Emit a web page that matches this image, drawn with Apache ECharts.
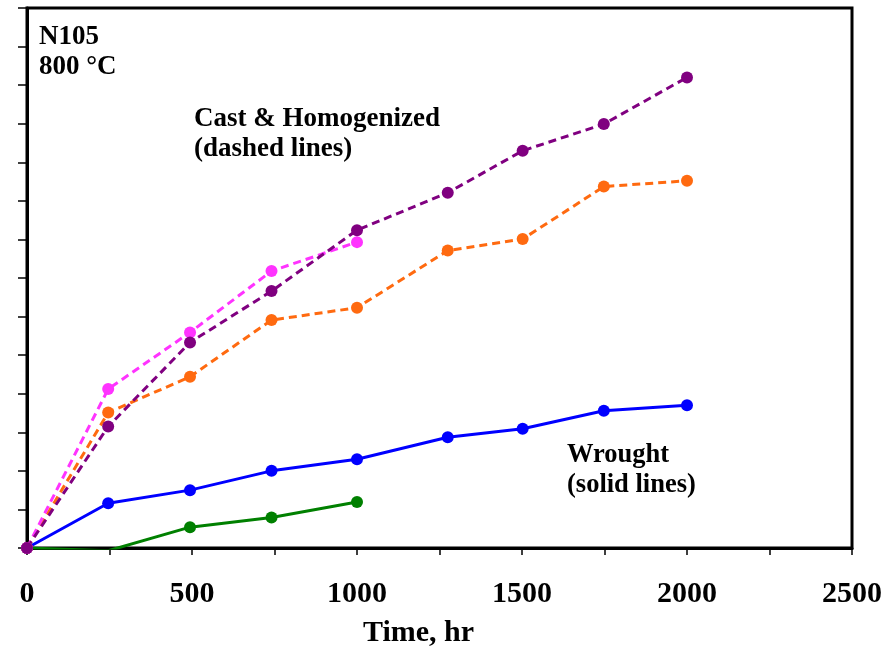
<!DOCTYPE html>
<html>
<head>
<meta charset="utf-8">
<script src="https://cdn.jsdelivr.net/npm/echarts@6/dist/echarts.min.js"></script>
<style>
html,body{margin:0;padding:0;background:#fff;}
#chart{width:887px;height:649px;}
</style>
</head>
<body>
<div id="chart"></div>
<script>
// Time (hr) and values (y axis unlabeled; arbitrary units)
var wroughtTimes = [0, 246, 494, 741, 1000, 1275, 1502, 1748, 2000];
var wroughtBlue = [0, 1.16, 1.50, 2.00, 2.30, 2.87, 3.09, 3.56, 3.70];
var greenTimes = [0, 246, 494, 741, 1000];
var wroughtGreen = [0, -0.07, 0.54, 0.79, 1.19];
var castTimes = [0, 246, 494, 741, 1000, 1275, 1502, 1748, 2000];
var castPurple = [0, 3.15, 5.33, 6.66, 8.24, 9.21, 10.30, 10.99, 12.20];
var castOrange = [0, 3.51, 4.44, 5.91, 6.23, 7.71, 8.01, 9.37, 9.52];
var magentaTimes = [0, 246, 494, 741, 1000];
var castMagenta = [0, 4.12, 5.59, 7.18, 7.93];
var xTickLabels = [0, 500, 1000, 1500, 2000, 2500];

function pairs(xs, ys) { return xs.map(function (x, i) { return [x, ys[i]]; }); }

var serif = '"Liberation Serif", "Times New Roman", serif';

function lineSeries(name, xs, ys, color, dashed) {
  return {
    name: name,
    type: 'line',
    data: pairs(xs, ys),
    symbol: 'circle',
    symbolSize: 12,
    showSymbol: true,
    clip: true,
    itemStyle: { color: color },
    lineStyle: { color: color, width: 3, type: dashed ? [8, 5] : 'solid' },
    emphasis: { disabled: true },
    animation: false
  };
}

var chart = echarts.init(document.getElementById('chart'));
chart.setOption({
  animation: false,
  backgroundColor: '#fff',
  grid: { left: 27, top: 8, right: 35, bottom: 101, show: true, borderColor: '#000', borderWidth: 3, backgroundColor: 'transparent' },
  xAxis: {
    type: 'value', min: 0, max: 2500, interval: 250,
    axisLine: { show: true, lineStyle: { color: '#000', width: 3 } },
    axisTick: { show: true, length: 7, lineStyle: { color: '#000', width: 1.5 } },
    splitLine: { show: false },
    axisLabel: {
      margin: 31, color: '#000', fontFamily: serif, fontWeight: 'bold', fontSize: 30,
      formatter: function (v) { return xTickLabels.indexOf(v) >= 0 ? String(v) : ''; }
    }
  },
  yAxis: {
    type: 'value', min: 0, max: 14, interval: 1,
    axisLine: { show: true, lineStyle: { color: '#000', width: 3 } },
    axisTick: { show: true, length: 9, lineStyle: { color: '#000', width: 1.5 } },
    splitLine: { show: false },
    axisLabel: { show: false }
  },
  series: [
    lineSeries('Wrought green', greenTimes, wroughtGreen, '#008000', false),
    lineSeries('Wrought blue', wroughtTimes, wroughtBlue, '#0000ff', false),
    lineSeries('Cast orange', castTimes, castOrange, '#ff6a10', true),
    lineSeries('Cast magenta', magentaTimes, castMagenta, '#ff33ff', true),
    lineSeries('Cast purple', castTimes, castPurple, '#800080', true)
  ],
  graphic: [
    { type: 'text', left: 39, top: 22, style: { text: 'N105\n800 °C', font: 'bold 27px ' + serif, fill: '#000', lineHeight: 30 } },
    { type: 'text', left: 194, top: 104, style: { text: 'Cast & Homogenized\n(dashed lines)', font: 'bold 27px ' + serif, fill: '#000', lineHeight: 30 } },
    { type: 'text', left: 567, top: 440, style: { text: 'Wrought\n(solid lines)', font: 'bold 26.5px ' + serif, fill: '#000', lineHeight: 30 } },
    { type: 'text', left: 363, top: 618, style: { text: 'Time, hr', font: 'bold 30px ' + serif, fill: '#000' } }
  ]
});
</script>
</body>
</html>
